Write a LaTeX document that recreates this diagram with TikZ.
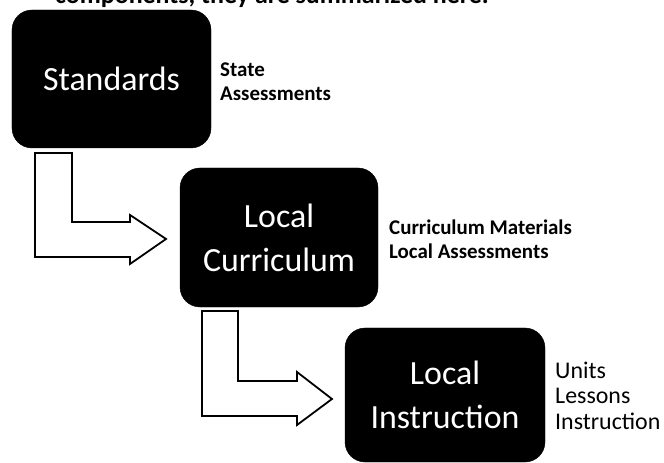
\documentclass[tikz,border=0pt]{standalone}
\usepackage{fontspec}
\setmainfont{Carlito}
\begin{document}
\begin{tikzpicture}[x=1bp,y=-1bp,
  stagebox/.style={fill=black, draw=black, rounded corners=20bp, text=white, inner sep=0pt,
    align=center, font=\fontsize{34}{44}\selectfont},
  sidelabel/.style={anchor=base west, inner sep=0pt, font=\fontsize{21}{23.5}\selectfont\bfseries},
  sidelabelb/.style={anchor=base west, inner sep=0pt, font=\fontsize{24}{26}\selectfont},
  blockarrow/.style={draw=black, fill=white, line width=1.8bp, line join=miter}]
\useasboundingbox (0,0) rectangle (664,463);
\fill[white] (0,0) rectangle (664,463);
\clip (0,0) rectangle (664,463);

% cropped line of text at the top
\node[anchor=base west, inner sep=0pt, font=\fontsize{26}{30}\selectfont\bfseries] (top) at (55,4) {components, they are summarized here.};

% stage boxes
\node[stagebox, minimum width=199bp, minimum height=138bp] (std) at (111.5,79) {Standards};
\node[stagebox, minimum width=198bp, minimum height=139bp] (cur) at (279,237.5) {Local\\Curriculum};
\node[stagebox, minimum width=200bp, minimum height=134bp] (ins) at (445,395) {Local\\Instruction};

% side labels
\node[sidelabel] (l1) at (220,77) {\begin{tabular}[t]{@{}l@{}}State\\Assessments\end{tabular}};
\node[sidelabel] (l2) at (389,235) {\begin{tabular}[t]{@{}l@{}}Curriculum Materials\\Local Assessments\end{tabular}};
\node[sidelabelb] (l3) at (555,378) {\begin{tabular}[t]{@{}l@{}}Units\\Lessons\\Instruction\end{tabular}};

% block arrows
\draw[blockarrow] (35,153) -- (72,153) -- (72,222) -- (130,222) -- (130,215) -- (166,239)
  -- (130,264) -- (130,257) -- (35,257) -- cycle;
\draw[blockarrow] (202,311) -- (238,311) -- (238,381) -- (297,381) -- (297,372) -- (332,399)
  -- (297,425) -- (297,416) -- (202,416) -- cycle;
\end{tikzpicture}
\end{document}
